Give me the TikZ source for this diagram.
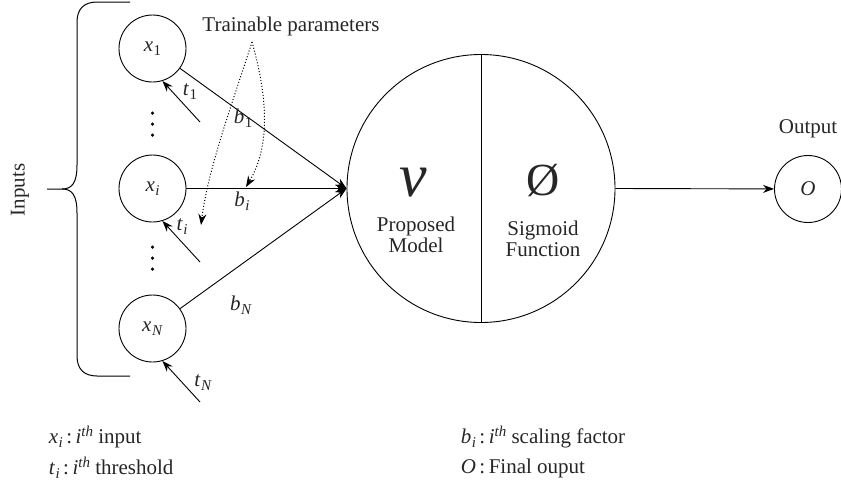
\documentclass[tikz,border=0pt]{standalone}
\usepackage{fontspec}
\setmainfont{Liberation Serif}
\usetikzlibrary{arrows.meta}
\newcommand\vv[2]{\textit{#1}\kern0.5pt\raisebox{-4pt}{\fontsize{15}{15}\selectfont #2}}
\newcommand\vsup[2]{\textit{#1}\raisebox{7pt}{\fontsize{15}{15}\selectfont\textit{#2}}}
\begin{document}
\begin{tikzpicture}[x=1pt,y=-1pt,
  line width=0.9pt,
  every node/.style={font=\fontsize{21}{24}\selectfont, text=black!85},
  arr/.style={-{Stealth[length=11pt,width=8pt]}},
  darr/.style={dotted, line width=1pt, -{Stealth[length=11pt,width=8pt]}},
  inp/.style={draw, circle, minimum size=67pt, inner sep=0pt},
  lbl/.style={inner sep=1pt},
  dotmark/.style={fill=black, circle, inner sep=0pt, minimum size=3.5pt}]
\useasboundingbox (0,0) rectangle (841,496);

% brace
\draw[line width=1pt] (130,2) -- (97,2) .. controls (84,2) and (77,9) .. (77,22) -- (77,165)
  .. controls (77,183) and (72,189) .. (62,189) -- (47,189);
\draw[line width=1pt] (62,189) .. controls (72,189) and (77,195) .. (77,213) -- (77,356)
  .. controls (77,369) and (84,376) .. (97,376) -- (130,376);
\node[rotate=90] (inputs) at (20,190) {Inputs};

% input nodes
\node[inp] (x1) at (152.5,48.5) {\vv{x}{1}};
\node[inp] (xi) at (152.5,188.5) {\vv{x}{\textit{i}}};
\node[inp] (xN) at (152.5,328.5) {\vv{x}{\textit{N}}};

% vertical dots
\foreach \y in {113,124,135,247,258,269}
  \node[dotmark] at (152.5,\y) {};

% thresholds
\coordinate (t1s) at (200,122);
\coordinate (tis) at (200,262);
\coordinate (tNs) at (200,402);
\draw[arr] (t1s) -- (x1.-73);
\draw[arr] (tis) -- (xi.-73);
\draw[arr] (tNs) -- (xN.-73);
\node[lbl] (t1) at (190,92) {\vv{t}{1}};
\node[lbl] (ti) at (182,227) {\vv{t}{\textit{i}}};
\node[lbl] (tN) at (203,383) {\vv{t}{\textit{N}}};

% big neuron
\node[draw, circle, minimum size=268pt, inner sep=0pt] (big) at (481,188.5) {};
\draw (big.north) -- (big.south);
\coordinate (conv) at (big.west);
\draw[arr] (x1) -- (conv);
\draw[arr] (xi) -- (conv);
\draw[arr] (xN) -- (conv);
\node[lbl] (b1) at (243,118) {\vv{b}{1}};
\node[lbl] (bi) at (242,201) {\vv{b}{\textit{i}}};
\node[lbl] (bN) at (241,305) {\vv{b}{\textit{N}}};

\node (nu) at (413,183) {\fontsize{62}{62}\selectfont\itshape ν};
\node[align=center] (pm) at (416,235) {Proposed\\[-3pt]Model};
\node (phi) at (543,180) {\fontsize{46}{46}\selectfont Ø};
\node[align=center] (sf) at (543,239) {Sigmoid\\[-3pt]Function};

% trainable parameters
\node (tp) at (291,26) {Trainable parameters};
\coordinate (apex) at (252,42);
\coordinate (tipL) at (201,225);
\coordinate (tipR) at (246,187);
\draw[darr] (apex) .. controls (230,110) and (208,170) .. (tipL);
\draw[darr] (apex) .. controls (270,105) and (268,150) .. (tipR);

% output
\node[inp] (out) at (808,189) {\textit{O}};
\node (outl) at (808,129) {Output};
\draw[arr] (big.east) -- (out);

% legend
\node[anchor=west] (lx) at (45,437) {\vv{x}{\textit{i}}\,:\,\vsup{i}{th} input};
\node[anchor=west] (lt) at (45,468) {\vv{t}{\textit{i}}\,:\,\vsup{i}{th} threshold};
\node[anchor=west] (lb) at (457,437) {\vv{b}{\textit{i}}\,:\,\vsup{i}{th} scaling factor};
\node[anchor=west] (lo) at (457,468) {\textit{O}\,:\,Final ouput};
\end{tikzpicture}
\end{document}
